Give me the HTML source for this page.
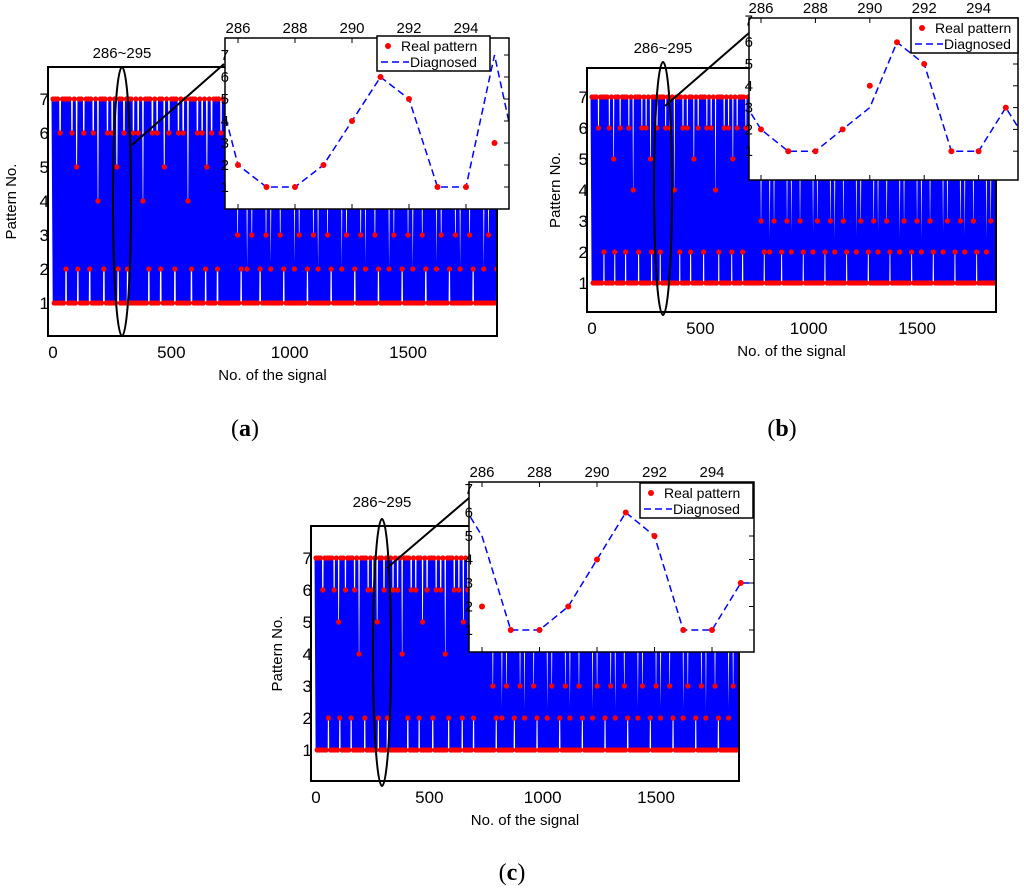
<!DOCTYPE html>
<html><head><meta charset="utf-8"><style>
html,body{margin:0;padding:0;background:#fff;}
svg{display:block;font-family:"Liberation Sans",sans-serif;}
.cap{font-family:"Liberation Serif",serif;font-size:24px;}
</style></head><body>
<svg id="fig" width="1024" height="890" viewBox="0 0 1024 890"></svg>
<script>
// ---- data ----
const signalHi = "717171617172717161715271716171727161714171727161716171527171617271716171617141717271617161727151716171727161716171417271716171617251716171727161717161";
const signalLo = "51515131525151215131515152515131512151515131525151515121513151515251513151215151513152515151512151315151525151315121515151315251515151215131515152515131512151515131525151515121513151515251513151215151513152515151512151315151525151315121515151315251513151";
const mainXTicks = [0, 500, 1000, 1500];
const mainYTicks = [1, 2, 3, 4, 5, 6, 7];
const insetIdx = [286, 287, 288, 289, 290, 291, 292, 293, 294, 295];
const diagIdx = [285, 286, 287, 288, 289, 290, 291, 292, 293, 294, 295, 296];
const insetXTicks = [286, 288, 290, 292, 294];
const realA = [2, 1, 1, 2, 4, 6, 5, 1, 1, 3];
const diagA = [7, 2, 1, 1, 2, 4, 6, 5, 1, 1, 7, 1];
const realB = [2, 1, 1, 2, 4, 6, 5, 1, 1, 3];
const diagB = [4, 2, 1, 1, 2, 3, 6, 5, 1, 1, 3, 1];
const realC = [2, 1, 1, 2, 4, 6, 5, 1, 1, 3];
const diagC = [7, 5, 1, 1, 2, 4, 6, 5, 1, 1, 3, 3];
const STEP = 5;

const NS = "http://www.w3.org/2000/svg";
const svg = document.getElementById("fig");
function mk(tag, attrs, parent) {
  const e = document.createElementNS(NS, tag);
  for (const k in attrs) e.setAttribute(k, attrs[k]);
  (parent || svg).appendChild(e);
  return e;
}
const signal = (signalHi + signalLo).split("").map(Number);

function panel(c, real, diag, id) {
  const g = mk("g", {});
  
  
  const X = s => c.x0 + s * c.kx, Y = v => c.y0 - v * c.ky;
  const clip = mk("clipPath", {id: "clip" + id}, g);
  mk("rect", {x: c.L, y: c.T, width: c.R - c.L, height: c.B - c.T}, clip);
  const data = mk("g", {"clip-path": "url(#clip" + id + ")"}, g);
  
  
  let pts = signal.map((v, i) => X(i * STEP).toFixed(1) + "," + Y(v).toFixed(1)).join(" ");
  const pl = mk("polyline", {points: pts, fill: "none", stroke: "#0000ff", "stroke-width": 3, "stroke-linejoin": "bevel"}, data);
  
  
  signal.forEach((v, i) => {
    const d = mk("circle", {cx: X(i * STEP), cy: Y(v), r: 2.6, fill: "#ff0000"}, data);
    
    
  });
  const box = mk("rect", {x: c.L, y: c.T, width: c.R - c.L, height: c.B - c.T, fill: "none", stroke: "#000", "stroke-width": 2}, g);
  
  
  mainYTicks.forEach(v => {
    const t = mk("text", {x: c.L + 1, y: Y(v) + 6, "text-anchor": "end", "font-size": 17}, g);
    t.textContent = v;
    
    
  });
  mainXTicks.forEach(v => {
    const t = mk("text", {x: X(v), y: c.B + 22, "text-anchor": "middle", "font-size": 17}, g);
    t.textContent = v;
    
    
  });
  const yl = mk("text", {x: 0, y: 0, transform: "translate(" + c.ylx + "," + ((c.T + c.B) / 2) + ") rotate(-90)", "text-anchor": "middle", "font-size": 15}, g);
  yl.textContent = "Pattern No.";
  
  
  const xl = mk("text", {x: (c.L + c.R) / 2, y: c.B + 44, "text-anchor": "middle", "font-size": 15}, g);
  xl.textContent = "No. of the signal";
  
  
  const el = mk("ellipse", {cx: c.ex, cy: (c.eT + c.eB) / 2, rx: 9, ry: (c.eB - c.eT) / 2, fill: "none", stroke: "#000", "stroke-width": 2}, g);
  
  
  const ln = mk("line", {x1: c.lx1, y1: c.ly1, x2: c.lx2, y2: c.ly2, stroke: "#000", "stroke-width": 2}, g);
  
  
  const rl = mk("text", {x: c.ex, y: c.rangeY, "text-anchor": "middle", "font-size": 15}, g);
  rl.textContent = "286~295";
  
  
  const i = c.in;
  const IX = t => i.x0 + (t - 286) * i.kx, IY = v => i.y0 - v * i.ky;
  const ig = mk("g", {}, g);
  
  
  mk("rect", {x: i.L, y: i.T, width: i.R - i.L, height: i.B - i.T, fill: "#fff"}, ig);
  const iclip = mk("clipPath", {id: "iclip" + id}, ig);
  mk("rect", {x: i.L, y: i.T, width: i.R - i.L, height: i.B - i.T}, iclip);
  const idata = mk("g", {"clip-path": "url(#iclip" + id + ")"}, ig);
  const dl = mk("polyline", {points: diag.map((v, k) => IX(diagIdx[k]) + "," + IY(v)).join(" "), fill: "none", stroke: "#0000ff", "stroke-width": 1.5, "stroke-dasharray": "7,4"}, idata);
  
  
  real.forEach((v, k) => {
    const d = mk("circle", {cx: IX(insetIdx[k]), cy: IY(v), r: 3, fill: "#ff0000"}, idata);
    
    
  });
  mk("rect", {x: i.L, y: i.T, width: i.R - i.L, height: i.B - i.T, fill: "none", stroke: "#000", "stroke-width": 1.5}, ig);
  insetXTicks.forEach(t => {
    mk("line", {x1: IX(t), y1: i.B, x2: IX(t), y2: i.B - 5, stroke: "#000"}, ig);
    mk("line", {x1: IX(t), y1: i.T, x2: IX(t), y2: i.T + 5, stroke: "#000"}, ig);
    const tx = mk("text", {x: IX(t), y: i.T - 5, "text-anchor": "middle", "font-size": 15}, ig);
    tx.textContent = t;
    
    
  });
  mainYTicks.forEach(v => {
    if (IY(v) < i.T - 2) return;
    mk("line", {x1: i.R, y1: IY(v), x2: i.R - 5, y2: IY(v), stroke: "#000"}, ig);
    const tx = mk("text", {x: i.L + 4, y: IY(v) + 5, "text-anchor": "end", "font-size": 15}, ig);
    tx.textContent = v;
    
    
  });
  const lg = mk("g", {}, ig);
  
  
  const l = c.lg;
  mk("rect", {x: l.x, y: l.y, width: l.w, height: 35, fill: "#fff", stroke: "#000", "stroke-width": 1.5}, lg);
  mk("circle", {cx: l.x + 11, cy: l.y + 10, r: 3, fill: "#ff0000"}, lg);
  const t1 = mk("text", {x: l.x + 24, y: l.y + 15, "font-size": 14}, lg);
  t1.textContent = "Real pattern";
  
  
  mk("line", {x1: l.x + 4, y1: l.y + 26, x2: l.x + 32, y2: l.y + 26, stroke: "#0000ff", "stroke-width": 1.5, "stroke-dasharray": "7,4"}, lg);
  const t2 = mk("text", {x: l.x + 33, y: l.y + 31, "font-size": 14}, lg);
  t2.textContent = "Diagnosed";
  
  
  const cap = mk("text", {x: c.capX, y: c.capY, "text-anchor": "middle", class: "cap"}, g);
  cap.innerHTML = '(<tspan font-weight="bold">' + id + '</tspan>)';
  
  
}

panel({L: 48, R: 497, T: 67, B: 336, x0: 53, kx: 0.2367, y0: 337, ky: 34, ylx: 16,
  ex: 122, eT: 67, eB: 336, lx1: 132, ly1: 145, lx2: 224, ly2: 64, rangeY: 58,
  in: {L: 225, R: 509, T: 38, B: 209, x0: 238, kx: 28.5, y0: 209, ky: 22},
  lg: {x: 377, y: 36, w: 113}, capX: 245, capY: 436}, realA, diagA, "a");
panel({L: 587, R: 996, T: 68, B: 312, x0: 592, kx: 0.2167, y0: 314, ky: 31, ylx: 560,
  ex: 663, eT: 62, eB: 315, lx1: 665, ly1: 106, lx2: 749, ly2: 33, rangeY: 53,
  in: {L: 749, R: 1018, T: 18, B: 180, x0: 761, kx: 27.2, y0: 173, ky: 21.8},
  lg: {x: 911, y: 18, w: 107}, capX: 782, capY: 436}, realB, diagB, "b");
panel({L: 311, R: 739, T: 526, B: 781, x0: 316, kx: 0.2267, y0: 782, ky: 32, ylx: 282,
  ex: 382, eT: 519, eB: 786, lx1: 387, ly1: 568, lx2: 469, ly2: 498, rangeY: 507,
  in: {L: 469, R: 754, T: 482, B: 652, x0: 482, kx: 28.75, y0: 653.5, ky: 23.5},
  lg: {x: 640, y: 483, w: 113}, capX: 512, capY: 880}, realC, diagC, "c");
</script>
</body></html>
